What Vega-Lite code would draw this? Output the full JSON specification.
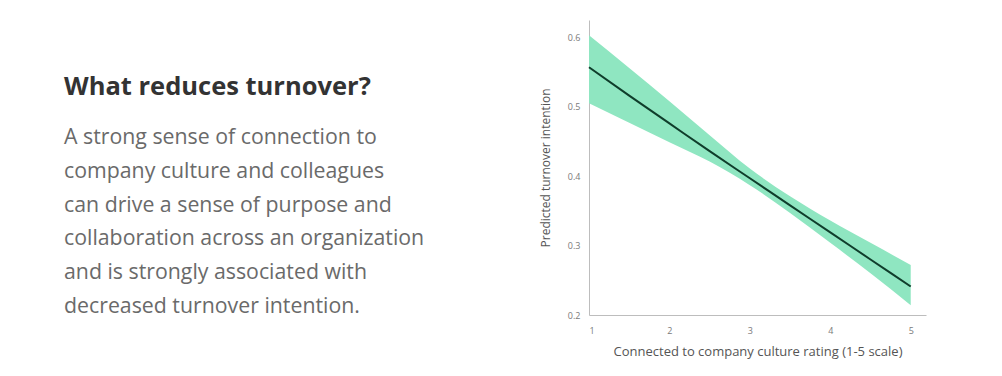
{
  "$schema": "https://vega.github.io/schema/vega-lite/v6.json",
  "padding": {"left": 64, "top": 20, "right": 5, "bottom": 5},
  "background": "white",
  "config": {
    "view": {"stroke": null},
    "font": "Lato"
  },
  "spacing": 0,
  "bounds": "flush",
  "hconcat": [
    {
      "width": 525,
      "height": 295,
      "data": {
        "values": [
          {"line": -0.5, "role": "heading", "text": "What reduces turnover?"},
          {"line": 1, "role": "body", "text": "A strong sense of connection to"},
          {"line": 2, "role": "body", "text": "company culture and colleagues"},
          {"line": 3, "role": "body", "text": "can drive a sense of purpose and"},
          {"line": 4, "role": "body", "text": "collaboration across an organization"},
          {"line": 5, "role": "body", "text": "and is strongly associated with"},
          {"line": 6, "role": "body", "text": "decreased turnover intention."}
        ]
      },
      "encoding": {
        "x": {"datum": 0, "type": "quantitative", "scale": {"domain": [0, 1]}, "axis": null},
        "y": {"field": "line", "type": "quantitative", "scale": {"domain": [-2.49, 6.24], "reverse": true, "zero": false, "nice": false}, "axis": null},
        "text": {"field": "text"}
      },
      "layer": [
        {
          "transform": [{"filter": "datum.role === 'heading'"}],
          "mark": {"type": "text", "align": "left", "baseline": "middle", "font": "Open Sans", "fontSize": 25.5, "fontWeight": "bold", "color": "#333333"}
        },
        {
          "transform": [{"filter": "datum.role === 'body'"}],
          "mark": {"type": "text", "align": "left", "baseline": "middle", "font": "Open Sans", "fontSize": 21.3, "color": "#6a6a6a"}
        }
      ]
    },
    {
      "width": 337,
      "height": 295,
      "data": {
        "values": [
          {"rating": 1.0, "mean": 0.557, "lower": 0.505, "upper": 0.603},
          {"rating": 1.5, "mean": 0.516, "lower": 0.477, "upper": 0.556},
          {"rating": 2.0, "mean": 0.476, "lower": 0.449, "upper": 0.508},
          {"rating": 2.5, "mean": 0.436, "lower": 0.421, "upper": 0.459},
          {"rating": 3.0, "mean": 0.397, "lower": 0.387, "upper": 0.411},
          {"rating": 3.5, "mean": 0.358, "lower": 0.347, "upper": 0.371},
          {"rating": 4.0, "mean": 0.319, "lower": 0.304, "upper": 0.336},
          {"rating": 4.5, "mean": 0.280, "lower": 0.260, "upper": 0.304},
          {"rating": 5.0, "mean": 0.241, "lower": 0.214, "upper": 0.272}
        ]
      },
      "encoding": {
        "x": {
          "field": "rating",
          "type": "quantitative",
          "scale": {"domain": [1, 5.19], "nice": false, "zero": false},
          "axis": {
            "title": "Connected to company culture rating (1-5 scale)",
            "values": [1, 2, 3, 4, 5],
            "format": "d",
            "ticks": false,
            "grid": false,
            "domainColor": "#bdbdbd",
            "labelColor": "#7a7a7a",
            "labelFont": "Open Sans",
            "labelFontSize": 9,
            "labelPadding": 11,
            "titleColor": "#555555",
            "titleFont": "Open Sans",
            "titleFontSize": 13,
            "titleFontWeight": "normal",
            "titlePadding": 10
          }
        }
      },
      "layer": [
        {
          "mark": {"type": "area", "color": "#8fe6c1", "opacity": 1, "interpolate": "monotone"},
          "encoding": {
            "y": {
              "field": "lower",
              "type": "quantitative",
              "scale": {"domain": [0.2, 0.625], "nice": false, "zero": false},
              "axis": {
                "title": "Predicted turnover intention",
                "values": [0.2, 0.3, 0.4, 0.5, 0.6],
                "format": ".1f",
                "ticks": false,
                "grid": false,
                "domainColor": "#bdbdbd",
                "labelColor": "#7a7a7a",
                "labelFont": "Open Sans",
                "labelFontSize": 9,
                "labelPadding": 9,
                "titleColor": "#555555",
                "titleFont": "Open Sans",
                "titleFontSize": 12,
                "titleFontWeight": "normal",
                "titlePadding": 15
              }
            },
            "y2": {"field": "upper"}
          }
        },
        {
          "mark": {"type": "line", "color": "#0f3d2b", "strokeWidth": 2, "interpolate": "monotone"},
          "encoding": {
            "y": {"field": "mean", "type": "quantitative"}
          }
        }
      ]
    }
  ]
}
